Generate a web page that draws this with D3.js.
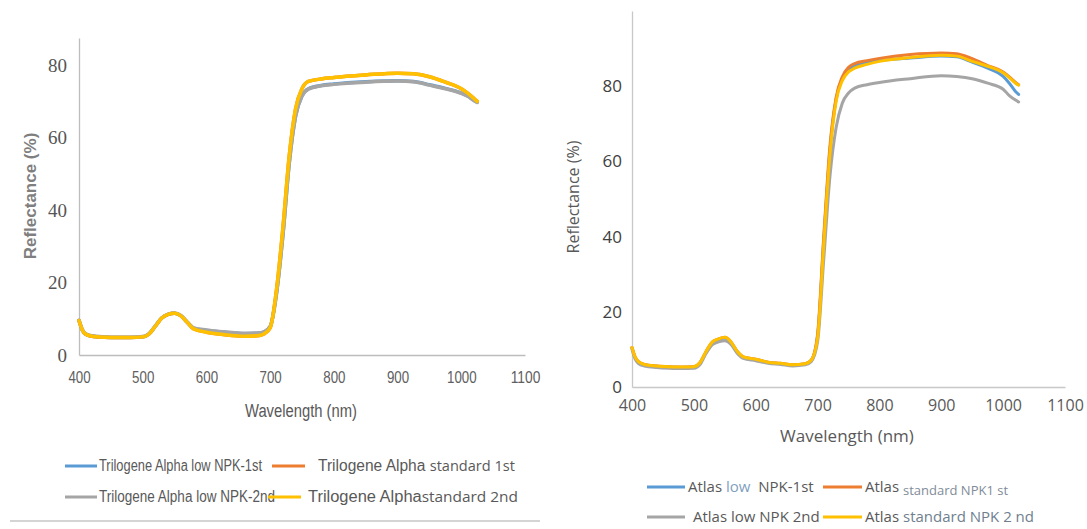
<!DOCTYPE html>
<html>
<head>
<meta charset="utf-8">
<script src="https://cdn.jsdelivr.net/npm/d3@7"></script>
<style>
  html, body { margin: 0; padding: 0; background: #fff; }
  svg { display: block; }
</style>
</head>
<body>
<svg id="chart" width="1087" height="529"></svg>
<script>
// ---------- DATA ----------
const wavelengths = [400,405,410,420,440,460,480,500,510,520,530,540,550,560,570,580,600,620,640,660,680,690,700,710,720,730,740,750,760,780,800,850,900,925,950,975,1000,1010,1020,1025];

// Left chart: Trilogene Alpha
const triLow1 = [9.5,7.0,5.8,5.2,4.9,4.8,4.8,5.0,5.8,8.0,10.2,11.2,11.5,10.8,9.0,7.4,6.8,6.4,6.1,5.9,6.0,6.3,7.8,17,33,53,66,71.5,73.5,74.4,74.8,75.4,75.7,75.5,74.6,73.6,72.3,71.5,70.3,69.8];
const triStd1 = [9.5,7.0,5.8,5.2,4.9,4.8,4.8,5.0,5.8,8.0,10.2,11.2,11.5,10.8,9.0,7.2,6.3,5.8,5.4,5.2,5.3,5.8,7.5,18,35,55,68,73.5,75.5,76.2,76.6,77.3,77.8,77.6,76.8,75.3,73.5,72.3,70.8,70.0];
const triLow2 = [9.6,7.1,5.9,5.3,5.0,4.9,4.9,5.1,5.9,8.1,10.3,11.3,11.6,10.9,9.1,7.5,6.9,6.5,6.2,6.0,6.1,6.4,7.9,17,33,53,66,71.5,73.4,74.3,74.7,75.3,75.6,75.4,74.5,73.5,72.2,71.4,70.2,69.7];
const triStd2 = [9.5,7.0,5.8,5.2,4.9,4.8,4.8,5.0,5.8,8.0,10.2,11.2,11.5,10.8,9.0,7.2,6.3,5.8,5.4,5.2,5.3,5.8,7.5,18,35,55,68,73.5,75.5,76.2,76.6,77.3,77.8,77.6,76.8,75.3,73.5,72.3,70.8,70.0];

// Right chart: Atlas
const atlasLow1 = [10.4,7.9,6.7,5.9,5.5,5.3,5.2,5.3,6.4,9.4,11.8,12.6,13.0,11.8,9.4,7.9,7.3,6.5,6.2,5.8,6.1,7.1,13.5,39,63,76.5,82,84.5,85.4,86.3,86.8,87.5,88.0,87.8,86.4,84.8,82.6,80.8,78.6,77.8];
const atlasStd1 = [10.5,8.0,6.8,6.0,5.6,5.4,5.3,5.4,6.5,9.5,12.0,12.8,13.2,12.0,9.5,8.0,7.4,6.6,6.3,5.9,6.2,7.2,14,40,64,77,82.5,85,86,86.8,87.4,88.4,88.8,88.6,87.3,85.5,83.8,82.5,81.0,80.4];
const atlasLow2 = [10.0,7.5,6.3,5.6,5.2,5.0,4.9,5.0,6.0,9.0,11.3,12.0,12.3,11.3,9.0,7.6,7.0,6.3,6.0,5.6,5.9,6.8,12,34,56,69,75.5,78.2,79.5,80.4,81.0,82.0,82.8,82.6,82.0,80.8,79.2,77.5,76.3,75.8];
const atlasStd2 = [10.5,8.0,6.8,6.0,5.6,5.4,5.3,5.4,6.5,9.5,12.0,12.8,13.2,12.0,9.5,8.0,7.4,6.6,6.3,5.9,6.2,7.2,13,38,62,76,81.5,83.8,84.8,85.8,86.6,87.6,88.2,88.0,86.6,85.3,83.6,82.3,80.8,80.3];

const xTicks = [400,500,600,700,800,900,1000,1100];
const yTicks = [0,20,40,60,80];

const seriesColors = ["#5B9BD5","#ED7D31","#A5A5A5","#FFC000"];

// ---------- DRAW ----------
const svg = d3.select("#chart");

function drawPanel(cfg) {
  const x = d3.scaleLinear().domain([400,1100]).range(cfg.xRange);
  const y = d3.scaleLinear().domain([0, cfg.yMax]).range(cfg.yRange);
  const g = svg.append("g");

  // axes
  const xAxis = g.append("g")
    .attr("transform", `translate(0,${cfg.yRange[0]})`)
    .call(d3.axisBottom(x).tickValues(xTicks).tickSize(0).tickPadding(cfg.xPad).tickFormat(d3.format("d")));
  xAxis.select(".domain").attr("stroke", cfg.axisColor).attr("stroke-width", 1.3);
  const xt = xAxis.selectAll("text")
    .attr("fill", cfg.tickColor)
    .style("font-family", cfg.xTickFont)
    .style("font-size", cfg.xTickSize + "px");
  if (cfg.xTickCharW) {
    xt.attr("textLength", d => String(d).length * cfg.xTickCharW).attr("lengthAdjust", "spacingAndGlyphs");
  }

  const yAxis = g.append("g")
    .attr("transform", `translate(${cfg.xRange[0]},0)`)
    .call(d3.axisLeft(y).tickValues(yTicks).tickSize(0).tickPadding(cfg.yPad));
  yAxis.select(".domain").attr("stroke", cfg.axisColor).attr("stroke-width", 1.3);
  yAxis.selectAll("text")
    .attr("fill", cfg.yTickColor)
    .attr("font-family", cfg.yTickFont)
    .style("font-family", cfg.yTickFont)
    .style("font-size", cfg.yTickSize + "px");

  // lines
  const line = d3.line()
    .x((d, i) => x(wavelengths[i]))
    .y(d => y(d))
    .curve(d3.curveMonotoneX);
  cfg.series.forEach((s, i) => {
    g.append("path")
      .datum(s)
      .attr("fill", "none")
      .attr("stroke", seriesColors[i])
      .attr("stroke-width", cfg.lineWidth)
      .attr("stroke-linejoin", "round")
      .attr("stroke-linecap", "round")
      .attr("d", line);
  });

  // titles
  const xtTitle = g.append("text")
    .attr("x", cfg.xTitlePos[0]).attr("y", cfg.xTitlePos[1])
    .attr("text-anchor", "middle")
    .attr("fill", "#595959")
    .style("font-family", cfg.xTitleFont)
    .style("font-size", cfg.xTitleSize + "px")
    .text("Wavelength (nm)");
  if (cfg.xTitleLen) xtTitle.attr("textLength", cfg.xTitleLen).attr("lengthAdjust", "spacingAndGlyphs");

  g.append("text")
    .attr("transform", `translate(${cfg.yTitlePos[0]},${cfg.yTitlePos[1]}) rotate(-90)`)
    .attr("text-anchor", "middle")
    .attr("fill", cfg.yTitleColor)
    .style("font-family", cfg.yTitleFont)
    .style("font-size", cfg.yTitleSize + "px")
    .style("font-weight", cfg.yTitleWeight)
    .text("Reflectance (%)");
}

drawPanel({
  xRange: [79, 525], yRange: [355, 38], yMax: 87.5,
  axisColor: "#bdbdbd", tickColor: "#606060", yTickColor: "#555",
  xTickFont: "'Liberation Sans', Arial, sans-serif", xTickSize: 17, xPad: 16, xTickCharW: 7.4,
  yTickFont: "'Liberation Serif', 'DejaVu Serif', serif", yTickSize: 19, yPad: 12,
  series: [triLow1, triStd1, triLow2, triStd2], lineWidth: 3.5,
  xTitlePos: [301, 417], xTitleFont: "'Liberation Sans', Arial, sans-serif", xTitleSize: 18, xTitleLen: 112,
  yTitlePos: [36, 196], yTitleFont: "'Liberation Sans', Arial, sans-serif", yTitleSize: 17, yTitleWeight: "bold", yTitleColor: "#7f7f7f"
});

drawPanel({
  xRange: [632, 1065], yRange: [387, 11], yMax: 100,
  axisColor: "#c8c8c8", tickColor: "#595959", yTickColor: "#404040",
  xTickFont: "'Open Sans', sans-serif", xTickSize: 16, xPad: 13,
  yTickFont: "'Open Sans', sans-serif", yTickSize: 17, yPad: 10,
  series: [atlasLow1, atlasStd1, atlasLow2, atlasStd2], lineWidth: 3,
  xTitlePos: [847, 442], xTitleFont: "'Open Sans', sans-serif", xTitleSize: 17,
  yTitlePos: [579, 197], yTitleFont: "'Open Sans', sans-serif", yTitleSize: 16, yTitleWeight: "normal", yTitleColor: "#595959"
});

// ---------- LEGENDS ----------
const sans = "'Liberation Sans', Arial, sans-serif";
const open = "'Open Sans', sans-serif";

function legendLine(x1, x2, yy, color) {
  svg.append("line").attr("x1", x1).attr("x2", x2).attr("y1", yy).attr("y2", yy)
    .attr("stroke", color).attr("stroke-width", 3);
}
function legendText(xx, yy, parts, len) {
  const t = svg.append("text").attr("x", xx).attr("y", yy).attr("fill", "#595959")
    .attr("xml:space", "preserve").style("white-space", "pre");
  if (len) t.attr("textLength", len).attr("lengthAdjust", "spacingAndGlyphs");
  parts.forEach(p => {
    const ts = t.append("tspan").text(p.t).style("font-family", p.f).style("font-size", p.s + "px");
    if (p.dy) ts.attr("dy", p.dy);
    if (p.c) ts.attr("fill", p.c);
  });
}

// left legend
legendLine(65, 97, 466, seriesColors[0]);
legendText(99, 471, [{t: "Trilogene Alpha low NPK-1st", f: sans, s: 16}], 163);
legendLine(272, 305, 466, seriesColors[1]);
legendText(318, 471, [{t: "Trilogene Alpha ", f: sans, s: 16}, {t: "standard 1st", f: open, s: 15}], 197);
legendLine(65, 97, 497, seriesColors[2]);
legendText(99, 502, [{t: "Trilogene Alpha low NPK-2nd", f: sans, s: 16}], 176);
legendLine(268, 301, 497, seriesColors[3]);
legendText(308, 502, [{t: "Trilogene Alpha", f: sans, s: 16}, {t: "standard 2nd", f: open, s: 15}], 210);

svg.append("line").attr("x1", 10).attr("x2", 540).attr("y1", 521).attr("y2", 521)
  .attr("stroke", "#d4d4d4").attr("stroke-width", 2);

// right legend
legendLine(647, 685, 487, seriesColors[0]);
legendText(688, 492, [{t: "Atlas ", f: open, s: 15}, {t: "low", f: open, s: 15, c: "#7f9fbf"}, {t: "  NPK-1st", f: open, s: 15}]);
legendLine(823, 862, 487, seriesColors[1]);
legendText(865, 492, [{t: "Atlas ", f: open, s: 15}, {t: "standard NPK1 st", f: open, s: 13, dy: 3, c: "#7f8c99"}]);
legendLine(647, 685, 517, seriesColors[2]);
legendText(693, 522, [{t: "Atlas low NPK 2nd", f: open, s: 15}]);
legendLine(823, 862, 517, seriesColors[3]);
legendText(865, 522, [{t: "Atlas ", f: open, s: 15}, {t: "standard NPK 2 nd", f: open, s: 15, c: "#6f7f90"}]);
</script>
</body>
</html>
